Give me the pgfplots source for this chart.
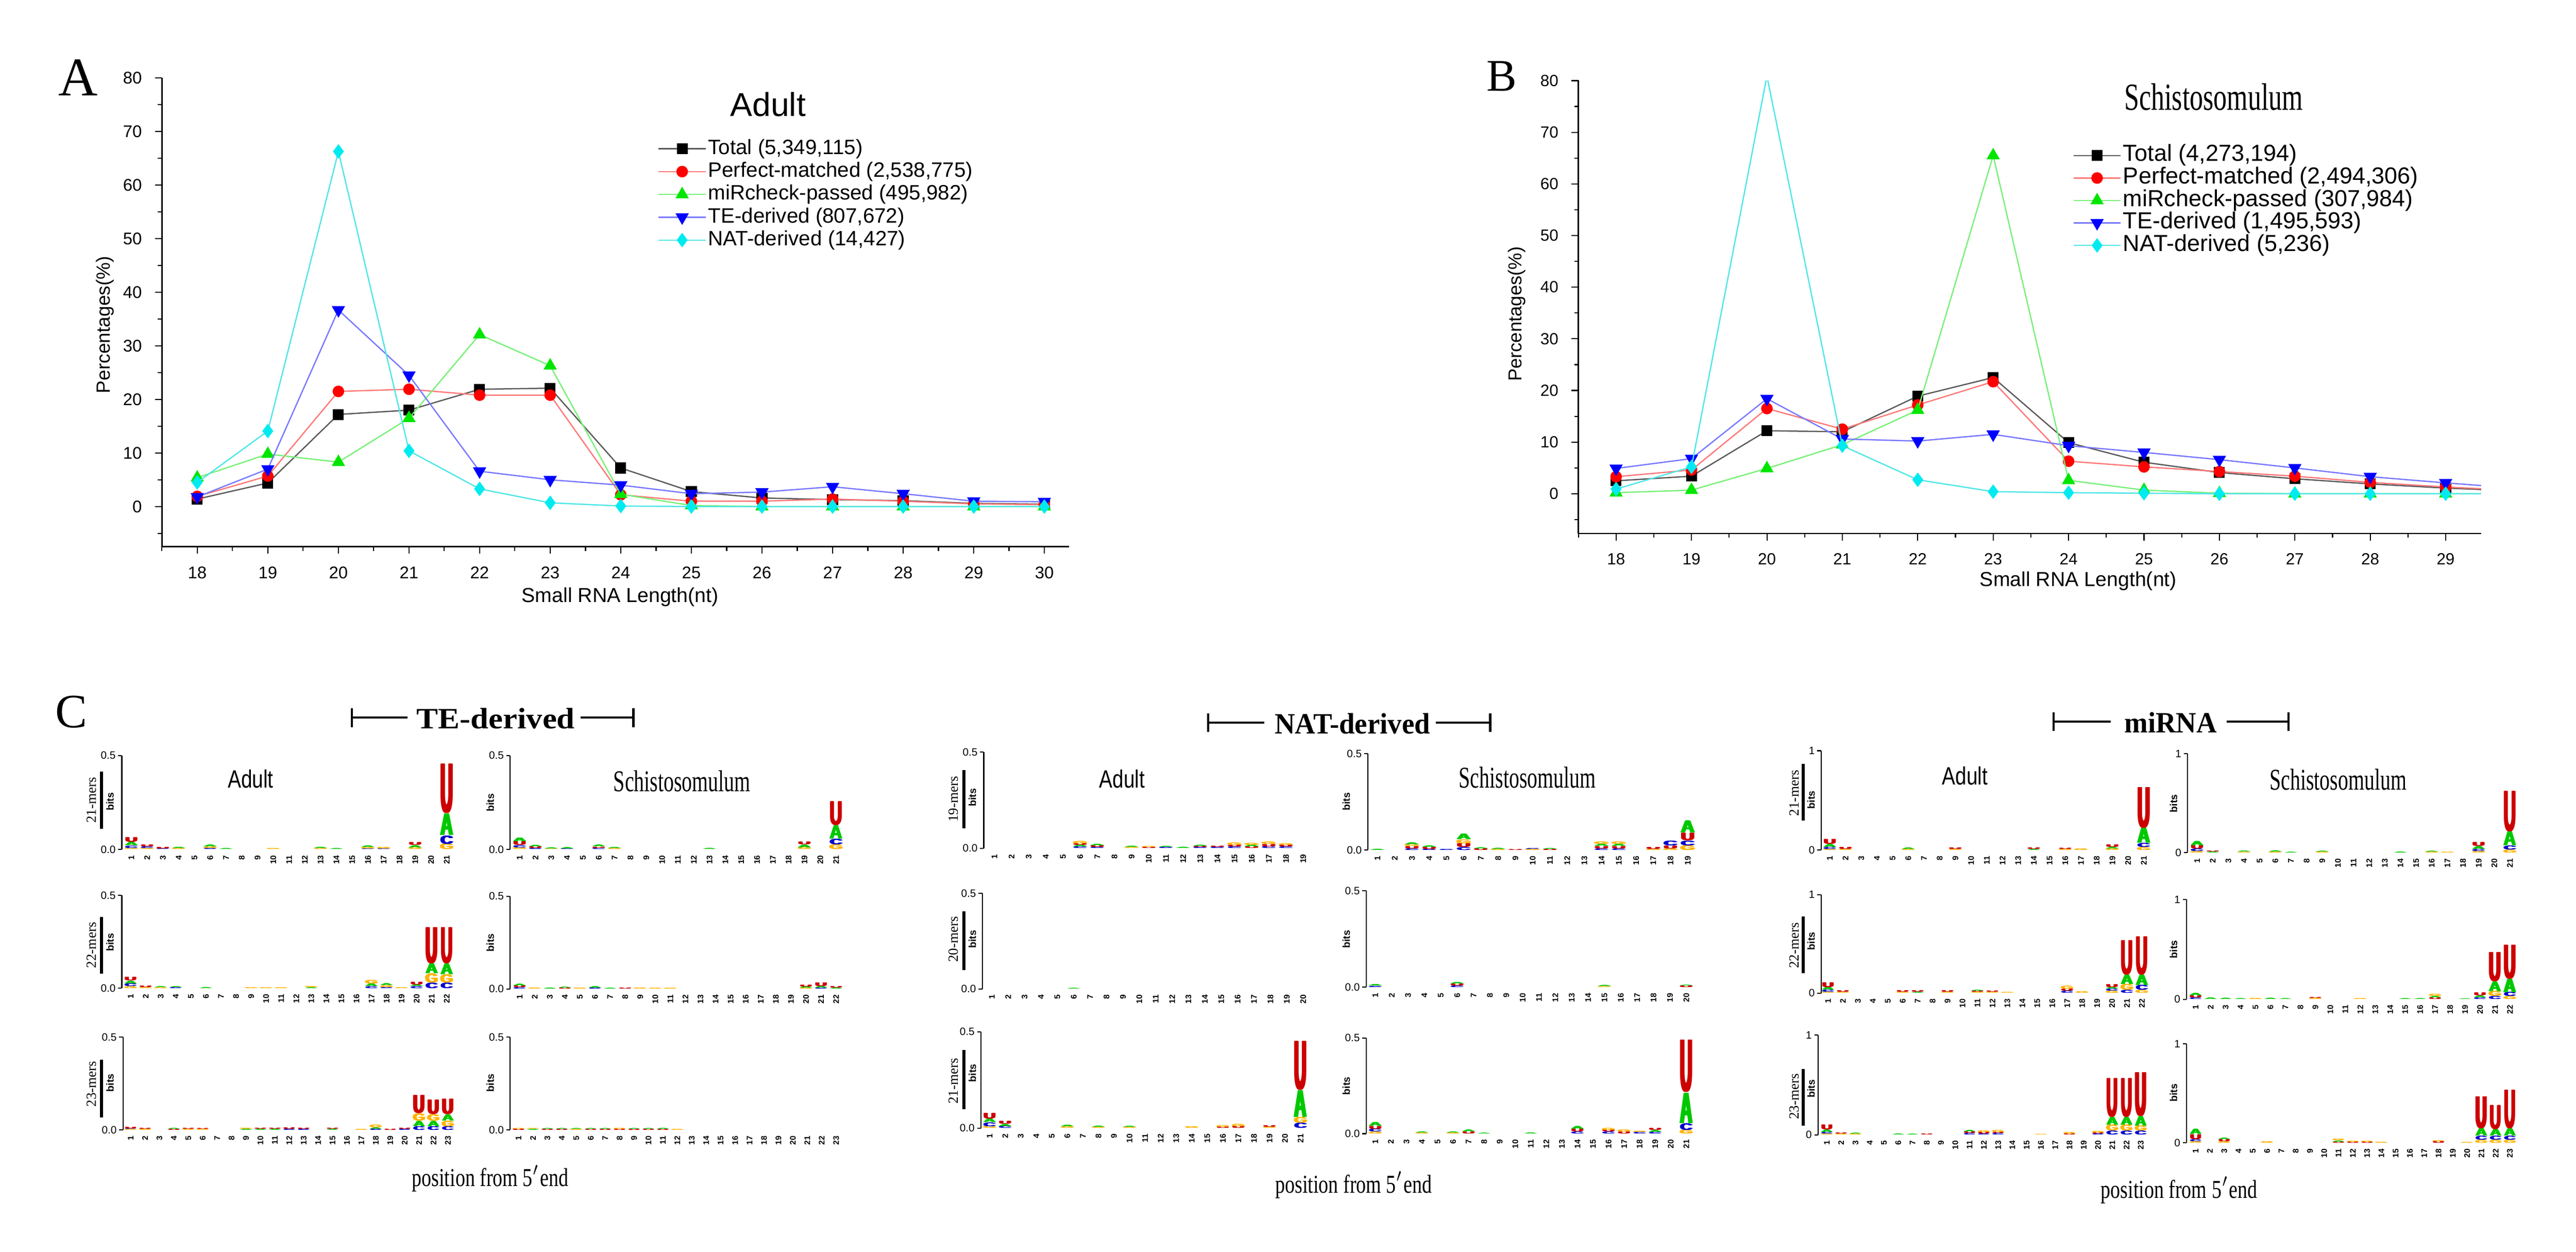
\documentclass[border=0pt]{standalone}
\usepackage{fontspec}
\usepackage{graphicx}
\usepackage{pgfplots}
\usepackage{pgfplotstable}
\pgfplotsset{compat=1.18}
\setmainfont{Liberation Serif}
\setsansfont{Liberation Sans}
\newfontfamily\lsans{Liberation Sans}
\newfontfamily\lserif{Liberation Serif}
\newcommand\fs[1]{\fontsize{#1}{#1}\selectfont}
\newcommand\logofont{\lsans\bfseries\fontsize{13.97}{14}\selectfont}
\definecolor{lgUc}{RGB}{204,0,0}
\definecolor{lgAc}{RGB}{0,200,0}
\definecolor{lgCc}{RGB}{0,0,204}
\definecolor{lgGc}{RGB}{255,179,0}
\newcommand\lgU{\textcolor{lgUc}{U}}
\newcommand\lgA{\textcolor{lgAc}{A}}
\newcommand\lgC{\textcolor{lgCc}{C}}
\newcommand\lgG{\textcolor{lgGc}{G}}
\newcommand\thk[1]{\rlap{\kern-\lgk pt#1}\rlap{\kern\lgk pt#1}#1}
\definecolor{lgray}{RGB}{90,90,90}
\definecolor{lred}{RGB}{255,120,120}
\definecolor{lgreen}{RGB}{120,240,120}
\definecolor{lblue}{RGB}{120,120,255}
\definecolor{lcyan}{RGB}{80,230,230}
\definecolor{mgreen}{RGB}{0,230,0}
\definecolor{mcyan}{RGB}{0,235,240}

\pgfplotstableread{
x total perfect mir te nat
18 1.4 1.9 5.4 1.8 4.5
19 4.4 5.7 9.8 7.0 14.1
20 17.2 21.5 8.3 36.7 66.3
21 18.0 21.9 16.5 24.5 10.4
22 21.9 20.8 32.1 6.6 3.3
23 22.1 20.8 26.3 5.0 0.7
24 7.2 2.2 2.3 4.0 0.1
25 2.8 1.0 0.2 2.4 0.0
26 1.6 1.0 0.0 2.7 0.0
27 1.3 1.4 0.0 3.7 0.0
28 1.1 1.0 0.0 2.4 0.0
29 0.6 0.5 0.0 1.0 0.0
30 0.45 0.35 0.0 0.9 0.0
}\dataA

\pgfplotstableread{
x total perfect mir te nat
18 2.5 3.3 0.2 4.9 0.9
19 3.4 4.6 0.7 6.8 5.2
20 12.2 16.5 4.9 18.4 80.9
21 12.0 12.5 9.5 10.6 9.3
22 18.9 17.2 16.2 10.2 2.7
23 22.5 21.7 65.5 11.5 0.4
24 9.9 6.3 2.6 9.3 0.2
25 6.1 5.2 0.7 8.0 0.1
26 4.1 4.3 0.1 6.6 0.0
27 2.9 3.4 0.0 5.0 0.0
28 1.9 2.2 0.0 3.3 0.0
29 1.1 1.3 0.0 2.1 0.0
30 0.5 0.6 0.0 1.0 0.0
}\dataB

% ---------- logo tables: x base height letter ----------
\pgfplotstableread{
x y h L
1 0 0.008 G
1 0.008 0.012 C
1 0.02 0.02 A
1 0.04 0.025 U
2 0 0.006 G
2 0.006 0.008 C
2 0.014 0.01 U
3 0 0.005 C
3 0.005 0.008 U
4 0 0.006 G
4 0.006 0.006 A
6 0 0.006 C
6 0.006 0.008 G
6 0.014 0.01 A
7 0 0.005 A
10 0 0.005 G
13 0 0.008 G
13 0.008 0.006 A
14 0 0.005 A
16 0 0.005 C
16 0.005 0.008 G
16 0.013 0.008 A
17 0 0.005 C
17 0.005 0.008 G
19 0 0.01 G
19 0.01 0.012 A
19 0.022 0.015 U
21 0 0.03 G
21 0.03 0.045 C
21 0.075 0.12 A
21 0.195 0.27 U
}\TEaA
\pgfplotstableread{
x y h L
1 0 0.01 G
1 0.01 0.015 C
1 0.025 0.015 A
1 0.04 0.02 U
2 0 0.005 G
2 0.005 0.008 U
3 0 0.005 G
3 0.005 0.005 A
4 0 0.005 C
4 0.005 0.005 A
6 0 0.006 A
9 0 0.005 G
10 0 0.005 G
11 0 0.005 G
13 0 0.005 A
13 0.005 0.006 G
17 0 0.01 C
17 0.01 0.015 A
17 0.025 0.02 G
18 0 0.006 C
18 0.006 0.01 G
18 0.016 0.01 A
19 0 0.005 G
20 0 0.01 C
20 0.01 0.01 A
20 0.02 0.015 U
21 0 0.03 C
21 0.03 0.05 G
21 0.08 0.055 A
21 0.135 0.2 U
22 0 0.03 C
22 0.03 0.045 G
22 0.075 0.06 A
22 0.135 0.2 U
}\TEaB
\pgfplotstableread{
x y h L
1 0 0.005 G
1 0.005 0.004 C
1 0.009 0.008 U
2 0 0.006 G
2 0.006 0.005 U
4 0 0.005 U
4 0.005 0.005 A
5 0 0.005 G
5 0.005 0.005 U
6 0 0.006 G
6 0.006 0.004 U
9 0 0.006 A
9 0.006 0.006 G
10 0 0.006 A
10 0.006 0.006 U
11 0 0.006 A
11 0.006 0.006 U
12 0 0.006 C
12 0.006 0.008 U
13 0 0.006 C
13 0.006 0.006 U
15 0 0.006 A
15 0.006 0.006 U
17 0 0.005 G
18 0 0.006 C
18 0.006 0.008 A
18 0.014 0.015 G
19 0 0.006 U
20 0 0.006 C
20 0.006 0.006 U
21 0 0.02 C
21 0.02 0.03 A
21 0.05 0.04 G
21 0.09 0.1 U
22 0 0.02 C
22 0.02 0.03 A
22 0.05 0.035 G
22 0.085 0.08 U
23 0 0.02 C
23 0.02 0.03 G
23 0.05 0.035 A
23 0.085 0.085 U
}\TEaC
\pgfplotstableread{
x y h L
1 0 0.01 G
1 0.01 0.012 C
1 0.022 0.02 U
1 0.042 0.02 A
2 0 0.006 C
2 0.006 0.008 U
2 0.014 0.008 A
3 0 0.004 G
3 0.004 0.006 A
4 0 0.005 C
4 0.005 0.007 A
6 0 0.008 C
6 0.008 0.006 U
6 0.014 0.01 A
7 0 0.006 G
7 0.006 0.005 A
13 0 0.006 A
19 0 0.01 G
19 0.01 0.015 A
19 0.025 0.015 U
21 0 0.025 G
21 0.025 0.03 C
21 0.055 0.075 A
21 0.13 0.13 U
}\TEsA
\pgfplotstableread{
x y h L
1 0 0.008 C
1 0.008 0.01 U
1 0.018 0.01 A
2 0 0.006 G
3 0 0.006 A
4 0 0.005 U
4 0.005 0.005 A
5 0 0.006 G
6 0 0.006 C
6 0.006 0.008 A
7 0 0.005 A
8 0 0.006 U
9 0 0.006 G
10 0 0.005 G
11 0 0.005 G
20 0 0.005 G
20 0.005 0.008 A
20 0.013 0.01 U
21 0 0.005 C
21 0.005 0.01 A
21 0.015 0.02 U
22 0 0.006 A
22 0.006 0.008 U
}\TEsB
\pgfplotstableread{
x y h L
1 0 0.006 U
1 0.006 0.004 G
2 0 0.005 A
2 0.005 0.004 G
3 0 0.005 U
3 0.005 0.004 A
4 0 0.005 U
4 0.005 0.004 A
5 0 0.005 G
5 0.005 0.004 A
6 0 0.005 U
6 0.005 0.004 A
7 0 0.005 U
7 0.005 0.004 A
8 0 0.005 U
8 0.005 0.005 G
9 0 0.005 U
9 0.005 0.004 A
10 0 0.005 U
10 0.005 0.004 A
11 0 0.005 U
11 0.005 0.005 A
12 0 0.005 G
}\TEsC
\pgfplotstableread{
x y h L
6 0 0.008 C
6 0.008 0.01 A
6 0.018 0.008 U
6 0.026 0.012 G
7 0 0.006 C
7 0.006 0.008 U
7 0.014 0.008 A
9 0 0.005 G
9 0.005 0.006 A
10 0 0.005 U
10 0.005 0.004 G
11 0 0.006 C
11 0.006 0.005 A
12 0 0.006 A
13 0 0.006 C
13 0.006 0.005 U
13 0.011 0.006 A
14 0 0.006 C
14 0.006 0.006 U
15 0 0.008 C
15 0.008 0.008 U
15 0.016 0.012 G
16 0 0.008 U
16 0.008 0.01 A
16 0.018 0.01 G
17 0 0.01 C
17 0.01 0.012 U
17 0.022 0.012 G
18 0 0.008 C
18 0.008 0.008 U
18 0.016 0.008 G
}\NAaA
\pgfplotstableread{
x y h L
6 0 0.004 A
}\NAaB
\pgfplotstableread{
x y h L
1 0 0.01 G
1 0.01 0.02 C
1 0.03 0.02 A
1 0.05 0.03 U
2 0 0.01 C
2 0.01 0.012 A
2 0.022 0.015 U
6 0 0.008 G
6 0.008 0.008 A
8 0 0.006 G
8 0.006 0.006 A
10 0 0.006 G
10 0.006 0.005 A
14 0 0.008 G
16 0 0.006 U
16 0.006 0.008 G
17 0 0.01 U
17 0.01 0.012 G
19 0 0.006 G
19 0.006 0.008 U
21 0 0.027 C
21 0.027 0.03 G
21 0.057 0.145 A
21 0.202 0.26 U
}\NAaC
\pgfplotstableread{
x y h L
1 0 0.006 A
3 0 0.008 C
3 0.008 0.012 U
3 0.02 0.01 G
3 0.03 0.01 A
4 0 0.006 C
4 0.006 0.01 U
4 0.016 0.008 A
5 0 0.005 C
6 0 0.015 C
6 0.015 0.02 U
6 0.035 0.02 G
6 0.055 0.03 A
7 0 0.008 U
7 0.008 0.006 A
8 0 0.006 G
8 0.006 0.006 A
9 0 0.004 U
10 0 0.006 G
10 0.006 0.004 C
11 0 0.005 U
11 0.005 0.005 A
14 0 0.008 C
14 0.008 0.012 U
14 0.02 0.012 A
14 0.032 0.012 G
15 0 0.008 C
15 0.008 0.012 U
15 0.02 0.012 A
15 0.032 0.012 G
17 0 0.006 G
17 0.006 0.01 U
18 0 0.008 G
18 0.008 0.015 U
18 0.023 0.025 C
19 0 0.025 G
19 0.025 0.025 C
19 0.05 0.04 U
19 0.09 0.065 A
}\NAsA
\pgfplotstableread{
x y h L
1 0 0.006 C
1 0.006 0.008 A
6 0 0.008 C
6 0.008 0.01 U
6 0.018 0.008 A
15 0 0.004 G
15 0.004 0.006 A
20 0 0.008 U
20 0.008 0.004 A
}\NAsB
\pgfplotstableread{
x y h L
1 0 0.01 G
1 0.01 0.015 C
1 0.025 0.015 U
1 0.04 0.02 A
4 0 0.005 G
4 0.005 0.005 A
6 0 0.005 G
6 0.005 0.005 A
7 0 0.01 U
7 0.01 0.01 A
8 0 0.004 A
11 0 0.005 A
14 0 0.01 C
14 0.01 0.015 U
14 0.025 0.015 A
16 0 0.01 C
16 0.01 0.01 U
16 0.02 0.01 G
17 0 0.01 U
17 0.01 0.01 G
18 0 0.008 C
18 0.008 0.006 G
19 0 0.008 C
19 0.008 0.01 A
19 0.018 0.01 U
21 0 0.02 G
21 0.02 0.035 C
21 0.055 0.165 A
21 0.22 0.28 U
}\NAsC
\pgfplotstableread{
x y h L
1 0 0.01 G
1 0.01 0.02 C
1 0.03 0.03 A
1 0.06 0.05 U
2 0 0.01 G
2 0.01 0.02 U
6 0 0.01 G
6 0.01 0.015 A
9 0 0.01 G
9 0.01 0.015 U
14 0 0.01 A
14 0.01 0.015 U
16 0 0.012 G
16 0.012 0.012 U
17 0 0.015 G
19 0 0.015 G
19 0.015 0.015 A
19 0.03 0.025 U
21 0 0.03 G
21 0.03 0.04 C
21 0.07 0.16 A
21 0.23 0.42 U
}\MIaA
\pgfplotstableread{
x y h L
1 0 0.01 G
1 0.01 0.02 C
1 0.03 0.03 A
1 0.06 0.05 U
2 0 0.01 G
2 0.01 0.015 U
6 0 0.01 G
6 0.01 0.015 U
7 0 0.01 A
7 0.01 0.015 U
9 0 0.01 G
9 0.01 0.015 U
11 0 0.01 G
11 0.01 0.012 U
11 0.022 0.01 A
12 0 0.01 G
12 0.01 0.012 U
13 0 0.008 G
17 0 0.02 C
17 0.02 0.02 U
17 0.04 0.03 G
18 0 0.015 G
20 0 0.02 G
20 0.02 0.02 C
20 0.04 0.02 A
20 0.06 0.03 U
21 0 0.03 C
21 0.03 0.06 G
21 0.09 0.1 A
21 0.19 0.36 U
22 0 0.03 G
22 0.03 0.05 C
22 0.08 0.11 A
22 0.19 0.4 U
}\MIaB
\pgfplotstableread{
x y h L
1 0 0.01 G
1 0.01 0.015 C
1 0.025 0.025 A
1 0.05 0.05 U
2 0 0.01 G
2 0.01 0.01 U
3 0 0.01 G
3 0.01 0.008 A
6 0 0.01 A
7 0 0.008 A
8 0 0.01 U
11 0 0.015 C
11 0.015 0.015 U
11 0.03 0.015 A
12 0 0.01 C
12 0.01 0.015 U
12 0.025 0.015 G
13 0 0.015 C
13 0.015 0.01 U
13 0.025 0.02 G
16 0 0.006 G
18 0 0.01 U
18 0.01 0.015 G
20 0 0.01 C
20 0.01 0.01 U
20 0.02 0.015 G
21 0 0.04 C
21 0.04 0.06 G
21 0.1 0.08 A
21 0.18 0.4 U
22 0 0.04 C
22 0.04 0.06 G
22 0.1 0.08 A
22 0.18 0.4 U
23 0 0.04 C
23 0.04 0.05 G
23 0.09 0.1 A
23 0.19 0.45 U
}\MIaC
\pgfplotstableread{
x y h L
1 0 0.015 G
1 0.015 0.025 C
1 0.04 0.035 U
1 0.075 0.045 A
2 0 0.01 A
2 0.01 0.01 U
4 0 0.008 G
4 0.008 0.01 A
6 0 0.01 G
6 0.01 0.012 A
7 0 0.008 A
9 0 0.012 G
9 0.012 0.008 A
14 0 0.01 A
16 0 0.012 G
16 0.012 0.008 A
17 0 0.008 G
19 0 0.015 G
19 0.015 0.02 C
19 0.035 0.03 A
19 0.065 0.04 U
21 0 0.03 G
21 0.03 0.04 C
21 0.07 0.15 A
21 0.22 0.42 U
}\MIsA
\pgfplotstableread{
x y h L
1 0 0.015 C
1 0.015 0.02 U
1 0.035 0.025 A
2 0 0.015 A
3 0 0.012 A
4 0 0.008 A
5 0 0.01 G
6 0 0.012 A
7 0 0.008 A
9 0 0.012 G
9 0.012 0.008 U
12 0 0.008 G
15 0 0.008 A
16 0 0.008 A
17 0 0.015 U
17 0.015 0.015 A
17 0.03 0.02 G
19 0 0.006 A
20 0 0.015 C
20 0.015 0.02 A
20 0.035 0.03 U
21 0 0.03 C
21 0.03 0.05 G
21 0.08 0.1 A
21 0.18 0.3 U
22 0 0.03 G
22 0.03 0.04 C
22 0.07 0.14 A
22 0.21 0.35 U
}\MIsB
\pgfplotstableread{
x y h L
1 0 0.015 G
1 0.015 0.02 C
1 0.035 0.05 U
1 0.085 0.055 A
3 0 0.015 G
3 0.015 0.02 U
3 0.035 0.015 A
6 0 0.015 G
11 0 0.012 U
11 0.012 0.012 A
11 0.024 0.015 G
12 0 0.01 U
12 0.01 0.01 G
13 0 0.01 U
13 0.01 0.01 G
14 0 0.01 G
18 0 0.015 U
18 0.015 0.01 G
20 0 0.008 G
21 0 0.03 G
21 0.03 0.04 C
21 0.07 0.08 A
21 0.15 0.33 U
22 0 0.03 G
22 0.03 0.04 C
22 0.07 0.07 A
22 0.14 0.25 U
23 0 0.03 G
23 0.03 0.04 C
23 0.07 0.08 A
23 0.15 0.4 U
}\MIsC

% L P1 PN N y0 ytop ymax (all in reference pixels)
\newcommand\setlogo[7]{%
 \pgfmathsetmacro\lgs{(#3-#2)/(#4-1)}%
 \pgfmathsetmacro\lgxmin{1-(#2-#1)/\lgs}%
 \pgfmathsetmacro\lgxmax{#4+0.6}%
 \pgfmathsetmacro\lgw{(\lgxmax-\lgxmin)*\lgs*0.1}%
 \pgfmathsetmacro\lgh{(#5-#6)*0.1}%
 \pgfmathsetmacro\lgx{#1*0.1}%
 \pgfmathsetmacro\lgy{-#5*0.1}%
 \pgfmathsetmacro\lgk{0.06*\lgs*0.1}%
 \pgfmathsetmacro\lgsx{(0.9*\lgs*0.1-2*\lgk)/10.09}%
 \pgfmathsetmacro\lgsy{\lgh/#7/10}%
 \def\lgN{#4}%
 \def\lgymax{#7}}

\pgfplotsset{
 lineaxis/.style={anchor=south west, scale only axis,
  axis x line=bottom, axis y line=left, axis line style={-, line width=0.35pt},
  tick align=outside, major tick length=1.9pt, minor tick length=1.1pt,
  tick style={line width=0.3pt, black},
  xtick={18,...,30}, minor xtick={17.5,18.5,...,29.5},
  ytick={0,10,...,80}, minor ytick={-5,5,...,75},
  /pgf/number format/assume math mode=true,
  legend cell align=left, clip mode=individual,
  legend image code/.code={\draw[##1, mark indices={2}] plot coordinates {(0pt,0pt) (6.4pt,0pt) (12.8pt,0pt)};},
 },
 s1/.style={color=lgray, line width=0.35pt, mark=square*, mark size=1.3pt, mark options={draw=black, fill=black, solid}},
 s2/.style={color=lred, line width=0.35pt, mark=*, mark size=1.4pt, mark options={draw=red, fill=red, solid}},
 s3/.style={color=lgreen, line width=0.35pt, mark=triangle*, mark size=1.75pt, mark options={draw=mgreen, fill=mgreen, solid}},
 s4/.style={color=lblue, line width=0.35pt, mark=triangle*, mark size=1.75pt, mark options={rotate=180, draw=blue, fill=blue, solid}},
 s5/.style={color=lcyan, line width=0.35pt, mark=diamond*, mark size=1.7pt, mark options={draw=mcyan, fill=mcyan, solid}},
 logo/.style={anchor=south west, scale only axis,
  at={(\lgx pt,\lgy pt)}, width=\lgw pt, height=\lgh pt,
  xmin=\lgxmin, xmax=\lgxmax, ymin=0, ymax=\lgymax,
  xtick={1,...,\lgN},
  axis x line=bottom, axis y line=left,
  axis line style={-, line width=0.3pt},
  x axis line style={draw=none},
  xtick style={draw=none}, ytick style={line width=0.3pt, black},
  tick align=outside, major tick length=1pt,
  xticklabel style={rotate=90, anchor=east, font=\lsans\bfseries\fs{2.2}, inner sep=0.4pt},
  yticklabel style={font=\lsans\fs{2.9}, inner sep=0.5pt},
  /pgf/number format/assume math mode=true,
  clip=false},
 letters/.style={only marks, mark=*, mark size=0pt, mark options={draw=none, fill=none},
  point meta=explicit symbolic,
  visualization depends on={\thisrow{h}*\lgsy \as \sy},
  nodes near coords={\thk{\scalebox{\lgsx}[\sy]{\csname lg\pgfplotspointmeta\endcsname}}},
  every node near coord/.append style={anchor=base, inner sep=0pt, outer sep=0pt, font=\logofont}},
}

\begin{document}
\begin{tikzpicture}
\useasboundingbox (0,0) rectangle (700pt,-340pt);

% ---------------- Panel A ----------------
\begin{axis}[lineaxis, at={(44pt,-148.5pt)}, width=246.5pt, height=127.3pt,
  xmin=17.5, xmax=30.35, ymin=-7.5, ymax=80,
  tick label style={font=\lsans\fs{4.6}},
  legend style={at={(0.546,0.875)}, anchor=north west, draw=none, fill=none, inner sep=0pt,
    font=\lsans\fs{5.65}, row sep=0pt, nodes={inner sep=0.5pt, text height=4.1pt, text depth=1.1pt}}]
\addplot[s1] table[x=x,y=total]{\dataA}; \addlegendentry{Total (5,349,115)}
\addplot[s2] table[x=x,y=perfect]{\dataA}; \addlegendentry{Perfect-matched (2,538,775)}
\addplot[s3] table[x=x,y=mir]{\dataA}; \addlegendentry{miRcheck-passed (495,982)}
\addplot[s4] table[x=x,y=te]{\dataA}; \addlegendentry{TE-derived (807,672)}
\addplot[s5] table[x=x,y=nat]{\dataA}; \addlegendentry{NAT-derived (14,427)}
\end{axis}

% ---------------- Panel B ----------------
\begin{axis}[lineaxis, at={(428.9pt,-144.9pt)}, width=245.3pt, height=123.0pt,
  xmin=17.5, xmax=29.47, ymin=-7.7, ymax=80,
  tick label style={font=\lsans\fs{4.4}},
  legend style={at={(0.547,0.861)}, anchor=north west, draw=none, fill=none, inner sep=0pt,
    font=\lsans\fs{6.3}, row sep=0pt, nodes={inner sep=0.5pt, text height=4.1pt, text depth=1.0pt}}]
\addplot[s1, mark indices={1,...,12}] table[x=x,y=total]{\dataB}; \addlegendentry{Total (4,273,194)}
\addplot[s2, mark indices={1,...,12}] table[x=x,y=perfect]{\dataB}; \addlegendentry{Perfect-matched (2,494,306)}
\addplot[s3, mark indices={1,...,12}] table[x=x,y=mir]{\dataB}; \addlegendentry{miRcheck-passed (307,984)}
\addplot[s4, mark indices={1,...,12}] table[x=x,y=te]{\dataB}; \addlegendentry{TE-derived (1,495,593)}
\addplot[s5, mark indices={1,...,12}] table[x=x,y=nat]{\dataB}; \addlegendentry{NAT-derived (5,236)}
\end{axis}

% ---------------- Panel C logos ----------------
% TE-derived
\setlogo{331}{357}{1214}{21}{2307}{2052}{0.5}
\begin{axis}[logo, ytick={0,0.5}, yticklabels={0.0,0.5}]
\addplot[letters] table[x=x,y=y,meta=L]{\TEaA};
\end{axis}
\setlogo{331}{355}{1214}{22}{2684}{2432}{0.5}
\begin{axis}[logo, ytick={0,0.5}, yticklabels={0.0,0.5}]
\addplot[letters] table[x=x,y=y,meta=L]{\TEaB};
\end{axis}
\setlogo{334}{355}{1217}{23}{3069}{2817}{0.5}
\begin{axis}[logo, ytick={0,0.5}, yticklabels={0.0,0.5}]
\addplot[letters] table[x=x,y=y,meta=L]{\TEaC};
\end{axis}
\setlogo{1386}{1412}{2272}{21}{2307}{2052}{0.5}
\begin{axis}[logo, ytick={0,0.5}, yticklabels={0.0,0.5}]
\addplot[letters] table[x=x,y=y,meta=L]{\TEsA};
\end{axis}
\setlogo{1386}{1412}{2272}{22}{2686}{2434}{0.5}
\begin{axis}[logo, ytick={0,0.5}, yticklabels={0.0,0.5}]
\addplot[letters] table[x=x,y=y,meta=L]{\TEsB};
\end{axis}
\setlogo{1386}{1409}{2272}{23}{3069}{2817}{0.5}
\begin{axis}[logo, ytick={0,0.5}, yticklabels={0.0,0.5}]
\addplot[letters] table[x=x,y=y,meta=L]{\TEsC};
\end{axis}
% NAT-derived
\setlogo{2673}{2702}{3541}{19}{2304}{2043}{0.5}
\begin{axis}[logo, ytick={0,0.5}, yticklabels={0.0,0.5}]
\addplot[letters] table[x=x,y=y,meta=L]{\NAaA};
\end{axis}
\setlogo{2669}{2695}{3541}{20}{2686}{2426}{0.5}
\begin{axis}[logo, ytick={0,0.5}, yticklabels={0.0,0.5}]
\addplot[letters] table[x=x,y=y,meta=L]{\NAaB};
\end{axis}
\setlogo{2665}{2689}{3534}{21}{3064}{2802}{0.5}
\begin{axis}[logo, ytick={0,0.5}, yticklabels={0.0,0.5}]
\addplot[letters] table[x=x,y=y,meta=L]{\NAaC};
\end{axis}
\setlogo{3717}{3743}{4586}{19}{2309}{2047}{0.5}
\begin{axis}[logo, ytick={0,0.5}, yticklabels={0.0,0.5}]
\addplot[letters] table[x=x,y=y,meta=L]{\NAsA};
\end{axis}
\setlogo{3712}{3737}{4582}{20}{2681}{2419}{0.5}
\begin{axis}[logo, ytick={0,0.5}, yticklabels={0.0,0.5}]
\addplot[letters] table[x=x,y=y,meta=L]{\NAsB};
\end{axis}
\setlogo{3712}{3737}{4582}{21}{3079}{2819}{0.5}
\begin{axis}[logo, ytick={0,0.5}, yticklabels={0.0,0.5}]
\addplot[letters] table[x=x,y=y,meta=L]{\NAsC};
\end{axis}
% miRNA
\setlogo{4948}{4972}{5825}{21}{2309}{2039}{1}
\begin{axis}[logo, ytick={0,1}, yticklabels={0,1}]
\addplot[letters] table[x=x,y=y,meta=L]{\MIaA};
\end{axis}
\setlogo{4948}{4967}{5820}{22}{2697}{2430}{1}
\begin{axis}[logo, ytick={0,1}, yticklabels={0,1}]
\addplot[letters] table[x=x,y=y,meta=L]{\MIaB};
\end{axis}
\setlogo{4940}{4964}{5817}{23}{3082}{2811}{1}
\begin{axis}[logo, ytick={0,1}, yticklabels={0,1}]
\addplot[letters] table[x=x,y=y,meta=L]{\MIaC};
\end{axis}
\setlogo{5944}{5970}{6820}{21}{2316}{2047}{1}
\begin{axis}[logo, ytick={0,1}, yticklabels={0,1}]
\addplot[letters] table[x=x,y=y,meta=L]{\MIsA};
\end{axis}
\setlogo{5941}{5966}{6820}{22}{2714}{2443}{1}
\begin{axis}[logo, ytick={0,1}, yticklabels={0,1}]
\addplot[letters] table[x=x,y=y,meta=L]{\MIsB};
\end{axis}
\setlogo{5941}{5966}{6820}{23}{3104}{2835}{1}
\begin{axis}[logo, ytick={0,1}, yticklabels={0,1}]
\addplot[letters] table[x=x,y=y,meta=L]{\MIsC};
\end{axis}

% ---------------- text, in reference pixels ----------------
\begin{scope}[x=0.1pt,y=-0.1pt]
\node[font=\lserif\fs{14.8}] at (212,211) {A};
\node[font=\lserif\fs{12.3}] at (4080,207) {B};
\node[font=\lserif\fs{13}] at (194,1933) {C};
\node[font=\lsans\fs{9}] at (2087,284) {Adult};
\node[font=\lserif\fs{10.4}] at (6015,264) {\scalebox{0.7}[1]{Schistosomulum}};
\node[font=\lsans\fs{5.5}] at (1685,1621) {Small RNA Length(nt)};
\node[font=\lsans\fs{5.2}, rotate=90] at (286,882) {Percentages(\%)};
\node[font=\lsans\fs{5.5}] at (5647,1578) {Small RNA Length(nt)};
\node[font=\lsans\fs{5.1}, rotate=90] at (4121,853) {Percentages(\%)};
% group headers
\draw[line width=0.6pt] (956,1949)--(1108,1949) (1577,1949)--(1721,1949) (956,1924)--(956,1975) (1721,1924)--(1721,1975);
\node[font=\lserif\bfseries\fs{8}] at (1347,1951) {\scalebox{1.1}[1]{TE-derived}};
\draw[line width=0.6pt] (3283,1963)--(3436,1963) (3902,1963)--(4049,1963) (3283,1937)--(3283,1988) (4049,1937)--(4049,1988);
\node[font=\lserif\bfseries\fs{8}] at (3675,1965) {\scalebox{0.96}[1]{NAT-derived}};
\draw[line width=0.6pt] (5580,1960)--(5735,1960) (6051,1960)--(6218,1960) (5580,1934)--(5580,1985) (6218,1934)--(6218,1985);
\node[font=\lserif\bfseries\fs{8}] at (5898,1962) {\scalebox{0.96}[1]{miRNA}};
% logo titles
\node[font=\lsans\fs{6.8}] at (681,2115) {\scalebox{0.8}[1]{Adult}};
\node[font=\lsans\fs{6.8}] at (3049,2115) {\scalebox{0.8}[1]{Adult}};
\node[font=\lsans\fs{6.8}] at (5339,2107) {\scalebox{0.8}[1]{Adult}};
\node[font=\lserif\fs{8.2}] at (1853,2121) {\scalebox{0.68}[1]{Schistosomulum}};
\node[font=\lserif\fs{8.2}] at (4150,2112) {\scalebox{0.68}[1]{Schistosomulum}};
\node[font=\lserif\fs{8.2}] at (6353,2117) {\scalebox{0.68}[1]{Schistosomulum}};
% x titles
\node[font=\lserif\fs{7}] at (1332,3201) {\scalebox{0.76}[1]{position from 5$'$end}};
\node[font=\lserif\fs{7}] at (3678,3218) {\scalebox{0.76}[1]{position from 5$'$end}};
\node[font=\lserif\fs{7}] at (5921,3232) {\scalebox{0.76}[1]{position from 5$'$end}};
% row labels and bars
\node[font=\lserif\fs{3.8}, rotate=90] at (248,2173) {21-mers};
\node[font=\lserif\fs{3.8}, rotate=90] at (248,2567) {22-mers};
\node[font=\lserif\fs{3.8}, rotate=90] at (248,2944) {23-mers};
\draw[line width=0.9pt] (276,2096)--(276,2251) (276,2491)--(276,2645) (276,2878)--(276,3035);
\node[font=\lserif\fs{3.8}, rotate=90] at (2591,2170) {19-mers};
\node[font=\lserif\fs{3.8}, rotate=90] at (2591,2551) {20-mers};
\node[font=\lserif\fs{3.8}, rotate=90] at (2591,2936) {21-mers};
\draw[line width=0.9pt] (2619,2092)--(2619,2250) (2619,2475)--(2619,2634) (2619,2851)--(2619,3012);
\node[font=\lserif\fs{3.8}, rotate=90] at (4876,2154) {21-mers};
\node[font=\lserif\fs{3.8}, rotate=90] at (4876,2568) {22-mers};
\node[font=\lserif\fs{3.8}, rotate=90] at (4876,2978) {23-mers};
\draw[line width=0.9pt] (4900,2074)--(4900,2228) (4900,2489)--(4900,2643) (4900,2903)--(4900,3057);
% bits labels
\foreach \bx/\by in {299/2177, 299/2559, 299/2941, 1332/2180, 1332/2560, 1332/2941,
  2642/2166, 2642/2551, 2642/2914, 3658/2177, 3658/2551, 3658/2949,
  4921/2172, 4921/2556, 4921/2957, 5906/2182, 5906/2578, 5906/2968}
  {\node[font=\lsans\bfseries\fs{2.75}, rotate=90] at (\bx,\by) {bits};}
\end{scope}
\end{tikzpicture}
\end{document}
